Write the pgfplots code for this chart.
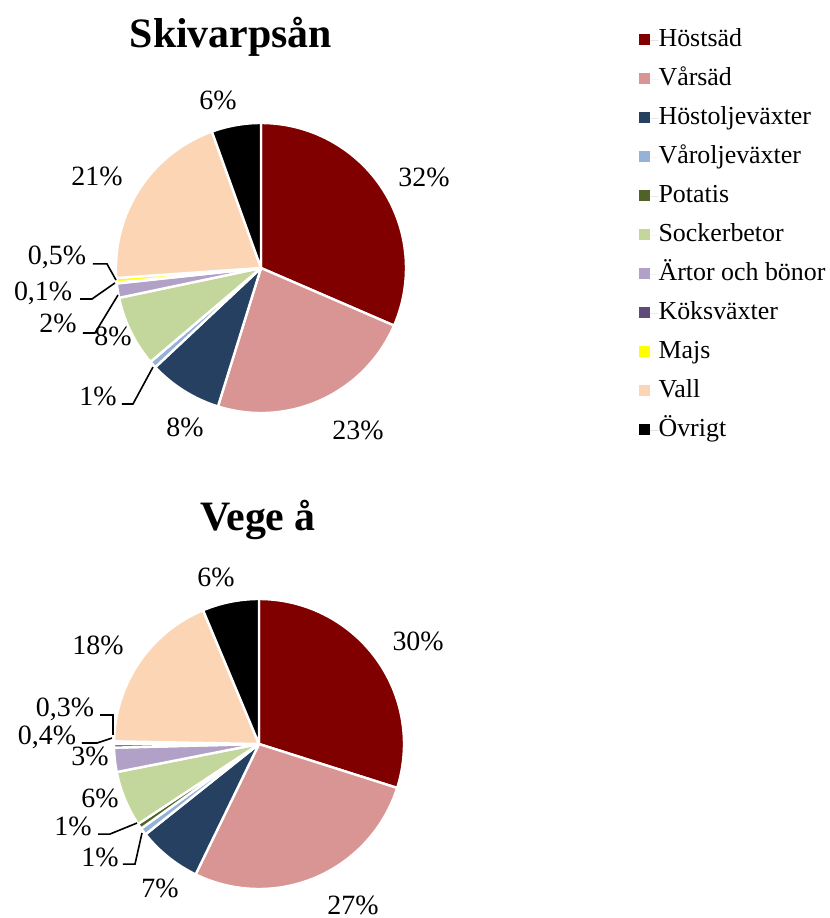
\documentclass[border=0pt]{standalone}
\usepackage{fontspec}
\setmainfont{Liberation Serif}
\usepackage{pgfplots}
\usepackage{pgfplotstable}
\pgfplotsset{compat=1.18}

\definecolor{c1}{HTML}{800000}
\definecolor{c2}{HTML}{D99594}
\definecolor{c3}{HTML}{254061}
\definecolor{c4}{HTML}{95B3D7}
\definecolor{c5}{HTML}{4F6228}
\definecolor{c6}{HTML}{C3D69B}
\definecolor{c7}{HTML}{B2A1C7}
\definecolor{c8}{HTML}{604A7B}
\definecolor{c9}{HTML}{FFFF00}
\definecolor{c10}{HTML}{FCD5B5}
\definecolor{c11}{HTML}{000000}

% shares in percent, clockwise from 12 o'clock
\pgfplotstableread{
crop val
Hostsad 31.5
Varsad 23.3
Hostolje 8.2
Varolje 0.8
Potatis 0
Sockerbetor 7.9
Artor 1.6
Koksvaxter 0.1
Majs 0.5
Vall 20.6
Ovrigt 5.5
}\skivarp

\pgfplotstableread{
crop val
Hostsad 29.9
Varsad 27.3
Hostolje 7.1
Varolje 0.8
Potatis 0.6
Sockerbetor 6.2
Artor 2.7
Koksvaxter 0.4
Majs 0.3
Vall 18.4
Ovrigt 6.3
}\vege

\newcommand\drawpie[1]{%
  \pgfplotstablegetrowsof{#1}\pgfmathtruncatemacro\nrows{\pgfplotsretval-1}%
  \def\tot{0}%
  \pgfplotsforeachungrouped \i in {0,...,\nrows}{%
    \pgfplotstablegetelem{\i}{val}\of{#1}\let\curval\pgfplotsretval
    \pgfmathsetmacro\tot{\tot+\curval}}%
  \def\cum{0}%
  \pgfplotsforeachungrouped \i in {0,...,\nrows}{%
    \pgfplotstablegetelem{\i}{val}\of{#1}\let\curval\pgfplotsretval
    \pgfmathsetmacro\a{90-(\cum/\tot)*360}%
    \pgfmathsetmacro\cum{\cum+\curval}%
    \pgfmathsetmacro\b{90-(\cum/\tot)*360}%
    \pgfmathsetmacro\xa{cos(\a)}\pgfmathsetmacro\ya{sin(\a)}%
    \pgfmathtruncatemacro\k{\i+1}%
    \edef\temp{\noexpand\fill[fill=c\k, draw=white, line width=1.2bp, line join=round]
      (axis cs:0,0) -- (axis cs:\xa,\ya) arc[start angle=\a, end angle=\b, radius=72.5bp] -- cycle;}%
    \temp}}

\pgfplotsset{pie/.style={hide axis, x=72.5bp, y=72.5bp, clip=false, anchor=origin,
  xmin=-1.7, xmax=1.3, ymin=-1.3, ymax=1.75}}
\tikzset{lbl/.style={font=\fontsize{14}{16}\selectfont, inner sep=0pt},
  ttl/.style={font=\fontsize{21}{25}\selectfont\bfseries, inner sep=0pt}}

\begin{document}
\begin{tikzpicture}
\useasboundingbox (-130.5bp,-325bp) rectangle (284.5bp,134bp);

\begin{axis}[pie, at={(0,0)},
  legend image code/.code={\fill[#1] (0bp,-2.5bp) rectangle (5.5bp,3bp); \path (0bp,0bp) -- (10bp,0bp);},
  legend cell align=left,
  legend style={at={(axis cs:2.56,1.686)}, anchor=north west, draw=none, fill=none,
    font=\fontsize{13}{15}\selectfont, row sep=7bp,
    nodes={text height=9.5bp, text depth=3bp, inner sep=0pt}}]
\drawpie{\skivarp}
\addlegendimage{fill=c1,draw=none}\addlegendentry{Höstsäd}
\addlegendimage{fill=c2,draw=none}\addlegendentry{Vårsäd}
\addlegendimage{fill=c3,draw=none}\addlegendentry{Höstoljeväxter}
\addlegendimage{fill=c4,draw=none}\addlegendentry{Våroljeväxter}
\addlegendimage{fill=c5,draw=none}\addlegendentry{Potatis}
\addlegendimage{fill=c6,draw=none}\addlegendentry{Sockerbetor}
\addlegendimage{fill=c7,draw=none}\addlegendentry{Ärtor och bönor}
\addlegendimage{fill=c8,draw=none}\addlegendentry{Köksväxter}
\addlegendimage{fill=c9,draw=none}\addlegendentry{Majs}
\addlegendimage{fill=c10,draw=none}\addlegendentry{Vall}
\addlegendimage{fill=c11,draw=none}\addlegendentry{Övrigt}
\draw[line width=0.8bp] (axis cs:-0.959,-0.938) -- (axis cs:-0.883,-0.938) -- (axis cs:-0.745,-0.683);
\draw[line width=0.8bp] (axis cs:-1.228,-0.448) -- (axis cs:-1.145,-0.448) -- (axis cs:-0.986,-0.186);
\draw[line width=0.8bp] (axis cs:-1.248,-0.214) -- (axis cs:-1.166,-0.214) -- (axis cs:-1.007,-0.103);
\draw[line width=0.8bp] (axis cs:-1.159,0.028) -- (axis cs:-1.062,0.028) -- (axis cs:-1.0,-0.083);
\node[lbl] at (axis cs:1.124,0.628) {32\%};
\node[lbl] at (axis cs:0.669,-1.117) {23\%};
\node[lbl] at (axis cs:-0.524,-1.097) {8\%};
\node[lbl] at (axis cs:-1.124,-0.883) {1\%};
\node[lbl] at (axis cs:-1.021,-0.469) {8\%};
\node[lbl] at (axis cs:-1.400,-0.379) {2\%};
\node[lbl] at (axis cs:-1.503,-0.172) {0,1\%};
\node[lbl] at (axis cs:-1.407,0.076) {0,5\%};
\node[lbl] at (axis cs:-1.131,0.634) {21\%};
\node[lbl] at (axis cs:-0.297,1.159) {6\%};
\node[ttl] at (axis cs:-0.207,1.593) {Skivarpsån};
\end{axis}

\begin{axis}[pie, at={(-1bp,-238bp)}]
\drawpie{\vege}
\draw[line width=0.8bp] (axis cs:-0.938,-0.828) -- (axis cs:-0.855,-0.828) -- (axis cs:-0.807,-0.614);
\draw[line width=0.8bp] (axis cs:-1.110,-0.621) -- (axis cs:-1.028,-0.621) -- (axis cs:-0.841,-0.545);
\draw[line width=0.8bp] (axis cs:-1.221,0.007) -- (axis cs:-1.117,0.007) -- (axis cs:-1.014,0.041);
\draw[line width=0.8bp] (axis cs:-1.097,0.2) -- (axis cs:-1.007,0.2) -- (axis cs:-1.007,0.062);
\node[lbl] at (axis cs:1.097,0.710) {30\%};
\node[lbl] at (axis cs:0.648,-1.110) {27\%};
\node[lbl] at (axis cs:-0.683,-0.993) {7\%};
\node[lbl] at (axis cs:-1.097,-0.779) {1\%};
\node[lbl] at (axis cs:-1.283,-0.566) {1\%};
\node[lbl] at (axis cs:-1.097,-0.372) {6\%};
\node[lbl] at (axis cs:-1.166,-0.083) {3\%};
\node[lbl] at (axis cs:-1.462,0.048) {0,4\%};
\node[lbl] at (axis cs:-1.338,0.241) {0,3\%};
\node[lbl] at (axis cs:-1.110,0.683) {18\%};
\node[lbl] at (axis cs:-0.297,1.152) {6\%};
\node[ttl] at (axis cs:-0.007,1.545) {Vege å};
\end{axis}
\end{tikzpicture}
\end{document}
